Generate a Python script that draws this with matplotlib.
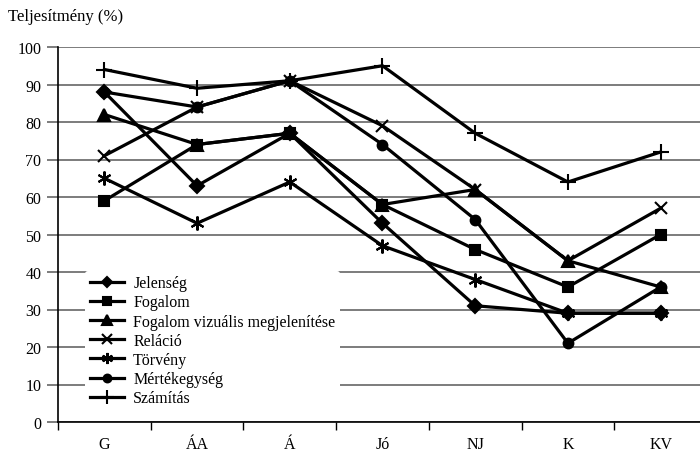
import numpy as np
import matplotlib
matplotlib.use("Agg")
import matplotlib.pyplot as plt

plt.rcParams['font.family'] = ['Liberation Serif', 'DejaVu Serif']

categories = ['G', 'ÁA', 'Á', 'Jó', 'NJ', 'K', 'KV']
jelenseg = [88, 63, 77, 53, 31, 29, 29]
fogalom = [59, 74, 77, 58, 46, 36, 50]
fogalom_viz = [82, 74, 77, 58, 62, 43, 36]
relacio = [71, 84, 91, 79, 62, 43, 57]
torveny = [65, 53, 64, 47, 38, 29, 29]
mertekegyseg = [88, 84, 91, 74, 54, 21, 36]
szamitas = [94, 89, 91, 95, 77, 64, 72]

series = [
    ('Jelenség', jelenseg, 'D', 7),
    ('Fogalom', fogalom, 's', 7),
    ('Fogalom vizuális megjelenítése', fogalom_viz, '^', 9),
    ('Reláció', relacio, 'x', 9),
    ('Törvény', torveny, (6, 2, 0), 10),
    ('Mértékegység', mertekegyseg, 'o', 7),
    ('Számítás', szamitas, '+', 12),
]

fig = plt.figure(figsize=(7, 4.56), dpi=100)
ax = fig.add_axes([58/700, (456-423)/456, (707-58)/700, (423-48)/456])

x = np.arange(len(categories))
for name, vals, mk, ms in series:
    ax.plot(x, vals, color='black', lw=2.3, marker=mk, markersize=ms,
            markeredgewidth=1.5, label=name)

ax.set_xlim(-0.5, 6.5)
ax.set_ylim(0, 100)
ax.set_yticks(range(0, 101, 10))
ax.yaxis.grid(True, color='#666666', lw=1.2)
ax.set_axisbelow(True)
ax.set_xticks(x)
ax.set_xticklabels(categories)
ax.set_xticks(np.arange(-0.5, 7, 1), minor=True)
ax.tick_params(axis='x', which='major', length=0, pad=10, labelsize=11.5)
ax.tick_params(axis='x', which='minor', length=6, width=1, direction='out')
ax.tick_params(axis='y', length=8, width=1.2, color='#666666', labelsize=11.5, pad=4)
for s in ['top', 'right']:
    ax.spines[s].set_visible(False)
ax.spines['left'].set_linewidth(1.2)
ax.spines['bottom'].set_linewidth(1.2)

leg = ax.legend(loc='upper left', bbox_to_anchor=(0.042, 0.404), frameon=True,
                edgecolor='none', facecolor='white', framealpha=1,
                fontsize=11.5, handlelength=2.1, labelspacing=0.2,
                borderpad=0.3, handletextpad=0.6, borderaxespad=0,
                markerscale=0.8)

fig.text(8/700, 1 - 17/456, 'Teljesítmény (%)', fontsize=12, va='center', ha='left')

fig.savefig('out.png', dpi=100)
